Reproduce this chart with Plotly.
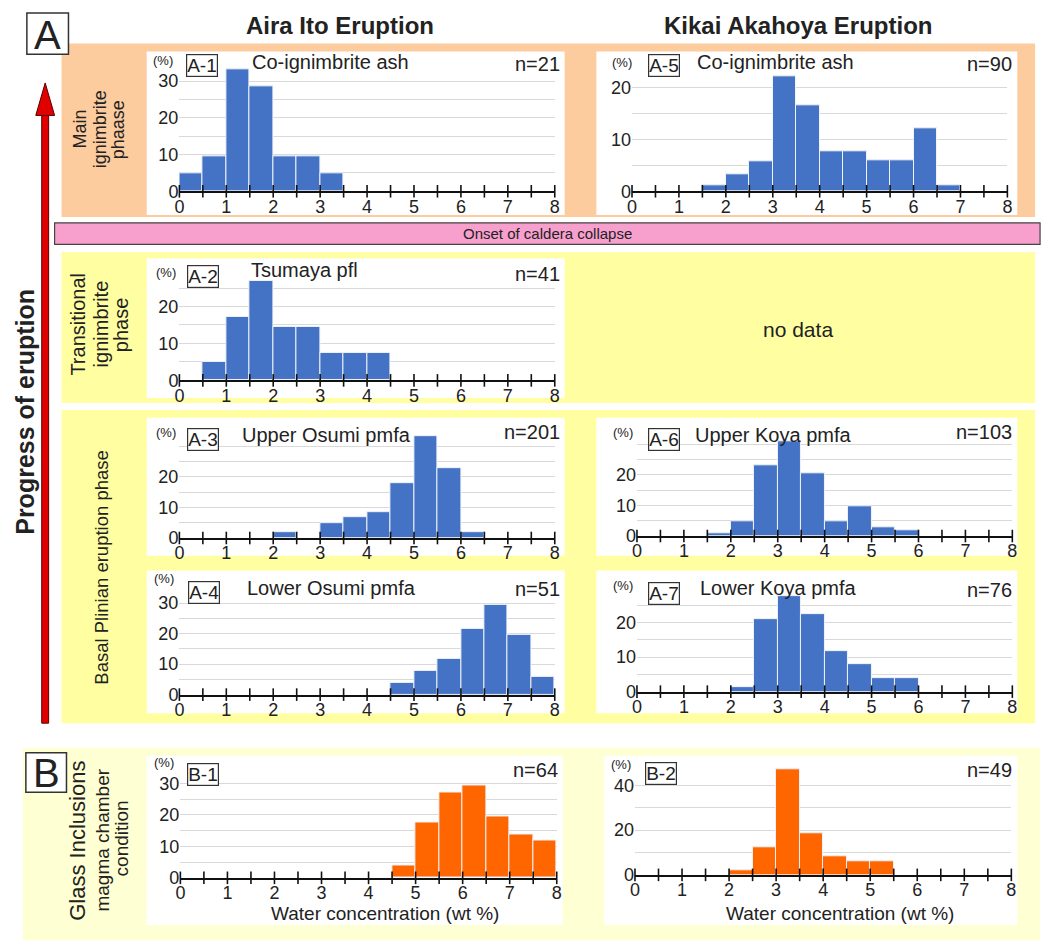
import plotly.graph_objects as go

W, H = 1060, 950
OFF = 8                      # default page margin of the html body
FW, FH = W - 2 * OFF, H - 2 * OFF

# ---------------- data ----------------
water_bins = [0.25, 0.75, 1.25, 1.75, 2.25, 2.75, 3.25, 3.75,
              4.25, 4.75, 5.25, 5.75, 6.25, 6.75, 7.25, 7.75]
x_tick_vals = [0, 1, 2, 3, 4, 5, 6, 7, 8]
x_tick_labels = ["0", "1", "2", "3", "4", "5", "6", "7", "8"]

a1_pct = [4.8, 9.5, 33.3, 28.6, 9.5, 9.5, 4.8, 0, 0, 0, 0, 0, 0, 0, 0, 0]
a5_pct = [0, 0, 0, 1.1, 3.3, 5.8, 22.2, 16.7, 7.8, 7.8, 5.9, 5.9, 12.2, 1.1, 0, 0]
a2_pct = [0, 4.9, 17.1, 26.8, 14.6, 14.6, 7.3, 7.3, 7.3, 0, 0, 0, 0, 0, 0, 0]
a3_pct = [0, 0, 0, 0, 2.0, 0, 4.7, 6.7, 8.4, 17.8, 33.5, 22.8, 2.0, 0, 0, 0]
a6_pct = [0, 0, 0, 1.0, 4.9, 23.3, 31.1, 20.4, 4.9, 9.7, 2.9, 1.9, 0, 0, 0, 0]
a4_pct = [0, 0, 0, 0, 0, 0, 0, 0, 0, 3.9, 7.8, 11.8, 21.6, 29.4, 19.6, 5.9]
a7_pct = [0, 0, 0, 0, 1.3, 21.1, 27.6, 22.4, 11.8, 7.9, 3.9, 3.9, 0, 0, 0, 0]
b1_pct = [0, 0, 0, 0, 0, 0, 0, 0, 0, 4.0, 17.5, 27.2, 29.2, 19.6, 13.6, 11.8]
b2_pct = [0, 0, 0, 0, 2.0, 12.2, 46.9, 18.4, 8.2, 6.1, 6.1, 0, 0, 0, 0, 0]

panel_ids = ["A-1", "A-5", "A-2", "A-3", "A-6", "A-4", "A-7", "B-1", "B-2"]
panel_titles = ["Co-ignimbrite ash", "Co-ignimbrite ash", "Tsumaya pfl",
                "Upper Osumi pmfa", "Upper Koya pmfa", "Lower Osumi pmfa",
                "Lower Koya pmfa", "", ""]
panel_n = ["n=21", "n=90", "n=41", "n=201", "n=103", "n=51", "n=76", "n=64", "n=49"]
panel_values = [a1_pct, a5_pct, a2_pct, a3_pct, a6_pct, a4_pct, a7_pct, b1_pct, b2_pct]

# ---------------- styling / geometry ----------------
BLUE = "#4472C4"
ORANGE = "#FF6600"
GRID = "#D9D9D9"
FONT = "Liberation Sans, Arial, sans-serif"

# x0/x8: pixel x of value 0 and 8 ; y0: pixel y of value 0 ; ppu: pixels per %
geom = {
    "A-1": dict(x0=176, x8=555, y0=190, ppu=3.73, ymax=34, grid=[5, 10, 15, 20, 25, 30], labels=[0, 10, 20, 30],
                box=(143, 48, 565, 214), color=BLUE, idx=199, idy=62, pctx=159, pcty=57, ty=59, ny=61, tx=247),
    "A-5": dict(x0=633, x8=1012, y0=190, ppu=5.25, ymax=23, grid=[5, 10, 15, 20], labels=[0, 10, 20],
                box=(597, 48, 1022, 214), color=BLUE, idx=665, idy=62, pctx=623, pcty=59, ty=59, ny=61, tx=697),
    "A-2": dict(x0=176, x8=555, y0=382, ppu=3.75, ymax=28, grid=[5, 10, 15, 20, 25], labels=[0, 10, 20],
                box=(143, 258, 565, 400), color=BLUE, idx=200, idy=277, pctx=162, pcty=272, ty=270, ny=274, tx=246),
    "A-3": dict(x0=176, x8=555, y0=542, ppu=3.1, ymax=34, grid=[5, 10, 15, 20, 25, 30], labels=[0, 10, 20],
                box=(143, 420, 565, 560), color=BLUE, idx=200, idy=442, pctx=162, pcty=435, ty=437, ny=434, tx=237),
    "A-6": dict(x0=638, x8=1017, y0=540, ppu=3.1, ymax=32, grid=[5, 10, 15, 20, 25, 30], labels=[0, 10, 20],
                box=(597, 420, 1022, 560), color=BLUE, idx=665, idy=442, pctx=624, pcty=435, ty=437, ny=434, tx=695),
    "A-4": dict(x0=176, x8=555, y0=701, ppu=3.1, ymax=32, grid=[5, 10, 15, 20, 25, 30], labels=[0, 10, 20, 30],
                box=(143, 575, 565, 720), color=BLUE, idx=201, idy=597, pctx=160, pcty=583, ty=593, ny=594, tx=242),
    "A-7": dict(x0=638, x8=1017, y0=698, ppu=3.5, ymax=28, grid=[5, 10, 15, 20, 25], labels=[0, 10, 20],
                box=(597, 575, 1022, 720), color=BLUE, idx=665, idy=598, pctx=624, pcty=590, ty=593, ny=595, tx=700),
    "B-1": dict(x0=177, x8=557, y0=887, ppu=3.2, ymax=35, grid=[5, 10, 15, 20, 25, 30, 35], labels=[0, 10, 20, 30],
                box=(143, 763, 563, 935), color=ORANGE, idx=200, idy=782, pctx=160, pcty=770, ty=0, ny=778, tx=0),
    "B-2": dict(x0=636, x8=1016, y0=884, ppu=2.275, ymax=48, grid=[10, 20, 30, 40], labels=[0, 20, 40],
                box=(605, 763, 1022, 935), color=ORANGE, idx=662, idy=781, pctx=622, pcty=772, ty=0, ny=778, tx=0),
}


def px(x):
    return (x - OFF) / FW


def py(y):
    return 1 - (y - OFF) / FH


fig = go.Figure()
shapes = []
annotations = []


def rect(x0, y0, x1, y1, fill, line=None, lw=0, layer="below"):
    shapes.append(dict(type="rect", xref="paper", yref="paper",
                       x0=px(x0), x1=px(x1), y0=py(y1), y1=py(y0),
                       fillcolor=fill, line=dict(color=line or fill, width=lw), layer=layer))


def text(x, y, s, size=15, color="#222", xanchor="center", yanchor="middle", angle=0,
         family=FONT, **kw):
    annotations.append(dict(xref="paper", yref="paper", x=px(x), y=py(y), text=s,
                            showarrow=False, xanchor=xanchor, yanchor=yanchor,
                            textangle=angle, font=dict(size=size, color=color, family=family), **kw))


# background bands
rect(57, 40, 1040, 216, "#FCCB9E")                 # main ignimbrite phase
rect(57, 252, 1040, 405, "#FFFFA2")                # transitional
rect(57, 412, 1040, 730, "#FFFFA2")                # basal plinian
rect(18, 755, 1045, 950, "#FFFFD4")                # glass inclusions
rect(50, 222, 1045, 244, "#F7A0CE", line="#444", lw=1.2)  # onset of caldera collapse
text(548, 233, "Onset of caldera collapse", size=15)

# red arrow
rect(37, 110, 44, 730, "#E00000", line="#5a0000", lw=1, layer="above")
shapes.append(dict(type="path", xref="paper", yref="paper", layer="above",
                   path=f"M {px(31)},{py(113)} L {px(40.5)},{py(80)} L {px(50)},{py(113)} Z",
                   fillcolor="#E00000", line=dict(color="#5a0000", width=1)))

# A / B boxes
rect(22, 9, 64, 51, "white", line="#333", lw=1.5, layer="above")
text(43, 31, "A", size=40)
rect(21, 760, 62, 800, "white", line="#333", lw=1.5, layer="above")
text(41.5, 781, "B", size=40)

# headers
text(338, 22, "<b>Aira Ito Eruption</b>", size=24)
text(801, 22, "<b>Kikai Akahoya Eruption</b>", size=24)

# side labels
text(20, 414, "<b>Progress of eruption</b>", size=25, angle=-90)
text(76, 127, "Main", size=18, angle=-90)
text(96, 127, "ignimbrite", size=18, angle=-90)
text(114, 127, "phaase", size=18, angle=-90)
text(74, 325, "Transitional", size=20, angle=-90)
text(97, 325, "ignimbrite", size=20, angle=-90)
text(117, 325, "phase", size=20, angle=-90)
text(97, 572, "Basal Plinian eruption phase", size=18.5, angle=-90)
text(73, 849, "Glass Inclusions", size=22, angle=-90)
text(98, 849, "magma chamber", size=19, angle=-90)
text(117, 847, "condition", size=19, angle=-90)

text(801, 330, "no data", size=21)

# panels
tick_positions = [i * 0.5 for i in range(17)]
for i, (pid, title, nlab, vals) in enumerate(zip(panel_ids, panel_titles, panel_n, panel_values), start=1):
    g = geom[pid]
    bx0, by0, bx1, by1 = g["box"]
    rect(bx0, by0, bx1, by1, "white")
    top = g["y0"] - g["ymax"] * g["ppu"]
    xa = "xaxis" if i == 1 else f"xaxis{i}"
    ya = "yaxis" if i == 1 else f"yaxis{i}"
    xr = "x" if i == 1 else f"x{i}"
    yr = "y" if i == 1 else f"y{i}"
    xs = [b for b, v in zip(water_bins, vals) if v > 0]
    ys = [v for v in vals if v > 0]
    fig.add_trace(go.Bar(x=xs, y=ys, width=0.5, xaxis=xr, yaxis=yr,
                         marker=dict(color=g["color"], line=dict(color="#EEF2FA", width=1)),
                         showlegend=False, hoverinfo="x+y"))
    fig.add_trace(go.Scatter(x=tick_positions, y=[0] * len(tick_positions), xaxis=xr, yaxis=yr,
                             mode="markers", cliponaxis=False, showlegend=False, hoverinfo="skip",
                             marker=dict(symbol="line-ns", size=9, line=dict(color="#111", width=1.6))))
    fig.layout[xa] = dict(domain=[px(g["x0"]), px(g["x8"])], range=[0, 8], anchor=yr,
                          tickvals=x_tick_vals, ticktext=x_tick_labels, ticks="",
                          ticklabelstandoff=-2,
                          showgrid=False, zeroline=False, showline=True, linecolor="#111", linewidth=1.6,
                          tickfont=dict(family=FONT, size=18, color="#222"), fixedrange=True)
    yvals = [0] + g["grid"]
    ytext = [str(v) if v in g["labels"] else "" for v in yvals]
    fig.layout[ya] = dict(domain=[py(g["y0"]), py(top)], range=[0, g["ymax"]], anchor=xr,
                          tickvals=yvals, ticktext=ytext, ticks="", showgrid=True, gridcolor=GRID,
                          gridwidth=1, zeroline=False, showline=False,
                          tickfont=dict(family=FONT, size=18, color="#222"), fixedrange=True)
    # texts
    text(g["pctx"], g["pcty"], "(%)", size=13)
    text(g["idx"], g["idy"], pid, size=19,
         bordercolor="#333", borderwidth=1.2, borderpad=0, bgcolor="white")
    if title:
        text(g["tx"], g["ty"], title, size=20, xanchor="left")
    text(bx1 - 3, g["ny"], nlab, size=20, xanchor="right")
    if pid.startswith("B"):
        text((g["x0"] + g["x8"]) / 2 + 17, 923, "Water concentration (wt %)", size=19)

fig.update_layout(width=FW, height=FH, margin=dict(l=0, r=0, t=0, b=0),
                  paper_bgcolor="white", plot_bgcolor="rgba(0,0,0,0)",
                  shapes=shapes, annotations=annotations, bargap=0,
                  font=dict(family=FONT, color="#222"))

fig.write_html("out.html")
